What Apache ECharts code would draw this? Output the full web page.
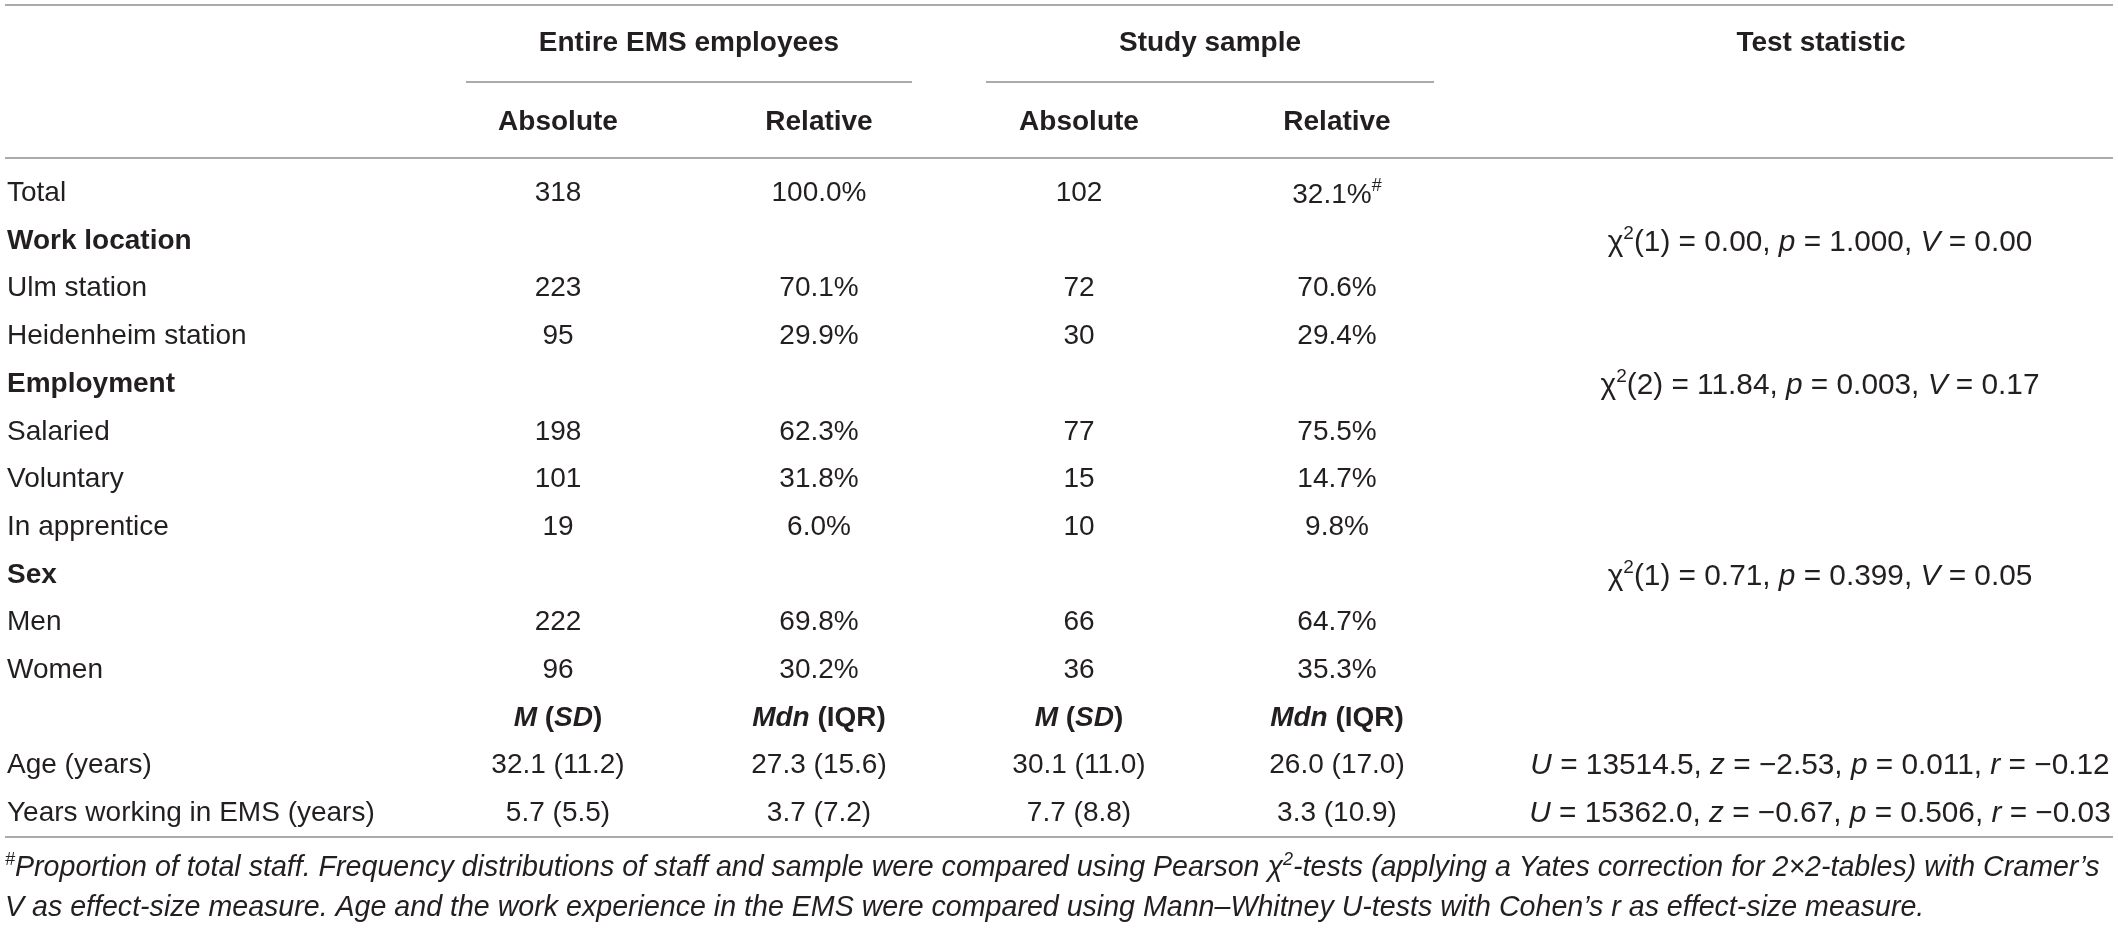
<!DOCTYPE html>
<html>
<head>
<meta charset="utf-8">
<script src="https://cdn.jsdelivr.net/npm/echarts@6/dist/echarts.min.js"></script>
<style>
  html, body { margin: 0; padding: 0; background: #fff; }
  #table1 { width: 2118px; height: 936px; }
</style>
</head>
<body>
<div id="table1"></div>
<script>
// rows of the table, top to bottom
const rowLabels = ['Total', 'Work location', 'Ulm station', 'Heidenheim station', 'Employment', 'Salaried', 'Voluntary', 'In apprentice', 'Sex', 'Men', 'Women', '', 'Age (years)', 'Years working in EMS (years)']
const groupRows = ['Work location', 'Employment', 'Sex']

// frequencies (first 11 rows, null = group heading)
const entireAbsolute = [318, null, 223, 95, null, 198, 101, 19, null, 222, 96]
const entireRelative = [100.0, null, 70.1, 29.9, null, 62.3, 31.8, 6.0, null, 69.8, 30.2]
const sampleAbsolute = [102, null, 72, 30, null, 77, 15, 10, null, 66, 36]
const sampleRelative = [32.1, null, 70.6, 29.4, null, 75.5, 14.7, 9.8, null, 64.7, 35.3]

// continuous rows
const contRows = ['Age (years)', 'Years working in EMS (years)']
const entireMean = [32.1, 5.7]
const entireSD = [11.2, 5.5]
const entireMedian = [27.3, 3.7]
const entireIQR = [15.6, 7.2]
const sampleMean = [30.1, 7.7]
const sampleSD = [11.0, 8.8]
const sampleMedian = [26.0, 3.3]
const sampleIQR = [17.0, 10.9]

// chi-square tests per group
const chiDf = [1, 2, 1]
const chiValue = [0.00, 11.84, 0.71]
const chiP = [1.000, 0.003, 0.399]
const cramerV = [0.00, 0.17, 0.05]

// Mann-Whitney tests
const uValue = [13514.5, 15362.0]
const zValue = [-2.53, -0.67]
const uP = [0.011, 0.506]
const effectR = [-0.12, -0.03]

const fontFamily = '"Liberation Sans", Arial, Helvetica, sans-serif'
const ink = '#231f20'
const ruleColor = '#8f8f8f'
const colX = { label: 7, entireAbs: 558, entireRel: 819, sampleAbs: 1079, sampleRel: 1337, test: 1820 }

const tok = (extra) => Object.assign({ fontFamily: fontFamily, fontSize: 28, fill: ink, verticalAlign: 'bottom' }, extra)
const richStyles = {
  n: tok({}),
  i: tok({ fontStyle: 'italic' }),
  b: tok({ fontWeight: 'bold' }),
  bi: tok({ fontWeight: 'bold', fontStyle: 'italic' }),
  sup: tok({ fontSize: 18, verticalAlign: 'top', padding: [0, 0, 14, 0] }),
  // test statistic column (set a little wider in the reference)
  t: tok({ fontSize: 29.8 }),
  ti: tok({ fontSize: 29.8, fontStyle: 'italic' }),
  tsup: tok({ fontSize: 19, verticalAlign: 'top', padding: [0, 0, 14, 0] }),
  // footnote
  fi: tok({ fontSize: 28.6, fontStyle: 'italic' }),
  fsup: tok({ fontSize: 18, fontStyle: 'italic', verticalAlign: 'top', padding: [0, 0, 14, 0] })
}

const signed = (v, d) => (v < 0 ? '\u2212' : '') + Math.abs(v).toFixed(d)

// build the cells
const cells = []
const addCell = (x, row, text, align) => cells.push({ x: x, row: row, text: text, align: align || 'center' })

rowLabels.forEach(function (name, row) {
  if (!name) return
  addCell(colX.label, row, groupRows.indexOf(name) >= 0 ? '{b|' + name + '}' : '{n|' + name + '}', 'left')
})
entireAbsolute.forEach(function (v, row) {
  if (v === null) return
  addCell(colX.entireAbs, row, '{n|' + v + '}')
  addCell(colX.entireRel, row, '{n|' + entireRelative[row].toFixed(1) + '%}')
  addCell(colX.sampleAbs, row, '{n|' + sampleAbsolute[row] + '}')
  addCell(colX.sampleRel, row, '{n|' + sampleRelative[row].toFixed(1) + '%}' + (row === 0 ? '{sup|#}' : ''))
})
const statRow = rowLabels.indexOf('')
addCell(colX.entireAbs, statRow, '{bi|M}{b| (}{bi|SD}{b|)}')
addCell(colX.entireRel, statRow, '{bi|Mdn}{b| (IQR)}')
addCell(colX.sampleAbs, statRow, '{bi|M}{b| (}{bi|SD}{b|)}')
addCell(colX.sampleRel, statRow, '{bi|Mdn}{b| (IQR)}')
contRows.forEach(function (name, k) {
  const row = rowLabels.indexOf(name)
  addCell(colX.entireAbs, row, '{n|' + entireMean[k].toFixed(1) + ' (' + entireSD[k].toFixed(1) + ')}')
  addCell(colX.entireRel, row, '{n|' + entireMedian[k].toFixed(1) + ' (' + entireIQR[k].toFixed(1) + ')}')
  addCell(colX.sampleAbs, row, '{n|' + sampleMean[k].toFixed(1) + ' (' + sampleSD[k].toFixed(1) + ')}')
  addCell(colX.sampleRel, row, '{n|' + sampleMedian[k].toFixed(1) + ' (' + sampleIQR[k].toFixed(1) + ')}')
  addCell(colX.test, row, '{ti|U}{t| = ' + uValue[k].toFixed(1) + ', }{ti|z}{t| = ' + signed(zValue[k], 2) +
    ', }{ti|p}{t| = ' + uP[k].toFixed(3) + ', }{ti|r}{t| = ' + signed(effectR[k], 2) + '}')
})
groupRows.forEach(function (name, k) {
  const row = rowLabels.indexOf(name)
  addCell(colX.test, row, '{t|\u03c7}{tsup|2}{t|(' + chiDf[k] + ') = ' + chiValue[k].toFixed(2) + ', }{ti|p}{t| = ' +
    chiP[k].toFixed(3) + ', }{ti|V}{t| = ' + cramerV[k].toFixed(2) + '}')
})

const rowHeight = 47.7
const gridTop = 193.3 - rowHeight / 2

const headText = (x, y, text) => ({
  type: 'text', x: x, y: y,
  style: { text: text, fill: ink, fontFamily: fontFamily, fontSize: 28, fontWeight: 'bold', align: 'center', verticalAlign: 'middle' }
})
const rule = (x1, x2, y) => ({
  type: 'line', shape: { x1: x1, y1: y, x2: x2, y2: y },
  style: { stroke: ruleColor, lineWidth: 1.5 }
})
const footText = (y, text) => ({
  type: 'text', x: 5, y: y,
  style: { text: text, rich: richStyles, fill: ink, align: 'left', verticalAlign: 'middle' }
})

const table1 = echarts.init(document.getElementById('table1'))

const table1Option = {
  animation: false,
  grid: { left: 0, right: 0, top: gridTop, height: rowHeight * rowLabels.length },
  xAxis: { type: 'value', min: 0, max: 2118, show: false },
  yAxis: { type: 'category', data: rowLabels, inverse: true, show: false },
  graphic: [
    rule(5, 2113, 5),
    headText((466 + 912) / 2, 43, 'Entire EMS employees'),
    headText((986 + 1434) / 2, 43, 'Study sample'),
    headText(colX.test + 1, 43, 'Test statistic'),
    rule(466, 912, 82),
    rule(986, 1434, 82),
    headText(colX.entireAbs, 122, 'Absolute'),
    headText(colX.entireRel, 122, 'Relative'),
    headText(colX.sampleAbs, 122, 'Absolute'),
    headText(colX.sampleRel, 122, 'Relative'),
    rule(5, 2113, 158),
    rule(5, 2113, 837),
    footText(867, '{fsup|#}{fi|Proportion of total staff. Frequency distributions of staff and sample were compared using Pearson \u03c7}{fsup|2}{fi|-tests (applying a Yates correction for 2\u00d72-tables) with Cramer\u2019s}'),
    footText(908, '{fi|V as effect-size measure. Age and the work experience in the EMS were compared using Mann\u2013Whitney U-tests with Cohen\u2019s r as effect-size measure.}')
  ],
  series: [
    {
      type: 'custom',
      data: cells.map(c => [c.x, c.row]),
      renderItem: function (params, api) {
        const c = cells[params.dataIndex]
        const p = api.coord([c.x, c.row])
        return {
          type: 'text',
          x: p[0],
          y: p[1],
          style: { text: c.text, rich: richStyles, fill: ink, fontFamily: fontFamily, fontSize: 28, align: c.align, verticalAlign: 'middle' }
        }
      }
    }
  ]
}

table1.setOption(table1Option)
</script>
</body>
</html>
